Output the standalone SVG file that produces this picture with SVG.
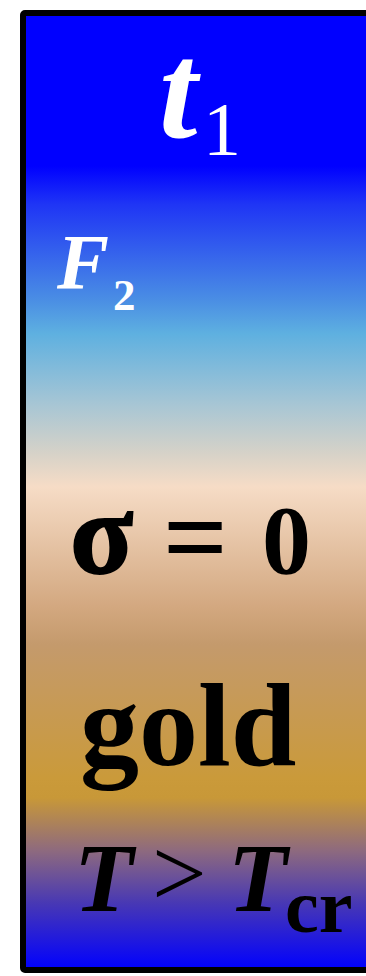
<svg xmlns="http://www.w3.org/2000/svg" width="366" height="976" viewBox="0 0 366 976">
<defs>
<linearGradient id="bg" gradientUnits="userSpaceOnUse" x1="0" y1="13" x2="0" y2="970">
<stop offset="0" stop-color="#0000ff"/>
<stop offset="0.16" stop-color="#0000ff"/>
<stop offset="0.2" stop-color="#1f35f5"/>
<stop offset="0.3" stop-color="#4a8ee4"/>
<stop offset="0.335" stop-color="#5eb0e0"/>
<stop offset="0.41" stop-color="#a8c6d4"/>
<stop offset="0.46" stop-color="#d6d2c8"/>
<stop offset="0.495" stop-color="#f6dcc6"/>
<stop offset="0.62" stop-color="#d3a880"/>
<stop offset="0.66" stop-color="#c49a6c"/>
<stop offset="0.8" stop-color="#ca9a3a"/>
<stop offset="0.82" stop-color="#c89838"/>
<stop offset="0.875" stop-color="#8e6a7e"/>
<stop offset="0.93" stop-color="#4838b4"/>
<stop offset="1" stop-color="#0000ff"/>
</linearGradient>
<style>
.s{font-family:"Liberation Serif","Times New Roman",serif;font-weight:bold}
.r{font-family:"Liberation Serif","Times New Roman",serif}
.i{font-style:italic}
.w{fill:#ffffff}
.k{fill:#000000}
</style>
</defs>
<g id="panel">
<rect x="23" y="13" width="400" height="957" rx="2" fill="url(#bg)" stroke="#000" stroke-width="6"/>
</g>
<g id="label-t1">
<text class="s i w" x="159" y="137" font-size="138">t</text>
<text class="r w" x="203" y="155" font-size="76">1</text>
</g>
<g id="label-F2">
<text class="s i w" x="57" y="288" font-size="78">F</text>
<text class="s w" x="113" y="310" font-size="45">2</text>
</g>
<g id="label-sigma">
<text class="s k" x="70" y="573" font-size="116" stroke="#000" stroke-width="2">σ</text>
<text class="s k" x="163" y="576" font-size="114">=</text>
<text class="s k" x="262" y="573" font-size="98">0</text>
</g>
<g id="label-gold">
<text class="s k" x="80" y="765" font-size="118">gold</text>
</g>
<g id="label-T">
<text class="s i k" x="74" y="911" font-size="97">T</text>
<text class="r k" x="152" y="906" font-size="97">&gt;</text>
<text class="s i k" x="228" y="911" font-size="97">T</text>
<text class="s k" x="285" y="932" font-size="76">cr</text>
</g>
</svg>
